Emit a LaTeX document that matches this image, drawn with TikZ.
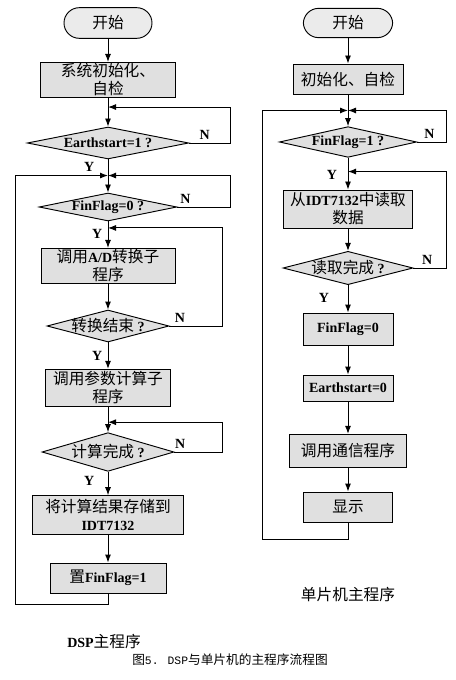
\documentclass[tikz,border=0pt]{standalone}
\usepackage{fontspec}
\setmainfont{Liberation Serif}
\newfontfamily\cjk[Scale=1.12]{Noto Sans CJK SC}
\newfontfamily\capmono{Liberation Mono}
\newcommand{\zh}[1]{{\cjk\mdseries #1}}
\usetikzlibrary{positioning,shapes.geometric,arrows.meta,calc}

\begin{document}
\begin{tikzpicture}[->, >={Latex[length=6pt,width=4.5pt]}, on grid, line width=0.7pt,
		font=\fontsize{10.5}{13.5}\selectfont\bfseries,
		term/.style={draw, rectangle, rounded corners=11.5pt, fill=black!8, minimum width=66pt, minimum height=23pt, inner sep=1pt},
		proc/.style={draw, rectangle, fill=black!12, align=center, inner sep=1pt},
		dec/.style={draw, diamond, fill=black!12, inner sep=0pt},
		yes/.style={inner sep=1pt},
		no/.style={above, inner sep=2pt}]
		\useasboundingbox (-81pt,17.25pt) rectangle (260.25pt,-492.75pt);

		% DSP main program
		\node[term] (start) {\zh{开始}};
		\node[proc, minimum width=101pt, minimum height=25.5pt] (init) [below=42.75pt of start] {\zh{系统初始化、}\\\zh{自检}};
		\node[dec, minimum width=121pt, minimum height=24pt] (d1) [below=47.25pt of init] {\makebox[0pt]{Earthstart=1 ?}};
		\node[dec, minimum width=103.5pt, minimum height=21pt] (d2) [below=48pt of d1] {\makebox[0pt]{FinFlag=0 ?}};
		\node[proc, minimum width=100.5pt, minimum height=23pt] (ad) [below=44.25pt of d2] {\zh{调用}A/D\zh{转换子}\\\zh{程序}};
		\node[dec, minimum width=91.5pt, minimum height=24pt] (d3) [below=45pt of ad] {\makebox[0pt]{\zh{转换结束} ?}};
		\node[proc, minimum width=94pt, minimum height=28pt] (calc) [below=46.5pt of d3] {\zh{调用参数计算子}\\\zh{程序}};
		\node[dec, minimum width=99pt, minimum height=29pt] (d4) [below=48pt of calc] {\makebox[0pt]{\zh{计算完成} ?}};
		\node[proc, minimum width=113pt, minimum height=29pt] (store) [below=47.25pt of d4] {\zh{将计算结果存储到}\\IDT7132};
		\node[proc, minimum width=87pt, minimum height=22.5pt] (setf) [below=47.25pt of store] {\zh{置}FinFlag=1};
		\node (dsplbl) [below=48pt of setf, xshift=-3pt] {DSP\zh{主程序}};

		\coordinate (railA) at ([xshift=91.5pt]start);
		\coordinate (railB) at ([xshift=85.5pt]start);
		\coordinate (railC) at ([xshift=-69.75pt]start);
		\coordinate (j1) at ([yshift=-6.75pt]init.south);
		\coordinate (j2) at ([yshift=12.75pt]d2.north);
		\coordinate (j3) at ([yshift=15pt]ad.north);
		\coordinate (j4) at ([yshift=7.5pt]d4.north);

		\draw (start) -- (init);
		\draw (init) -- (d1);
		\draw (d1.east) -- node[no, pos=0.38] {N} (d1.east -| railA) |- (j1);
		\draw (d1) -- node[yes, pos=0.24, left=9pt] {Y} (d2);
		\draw (d2.east) -- node[no, pos=0.15] {N} (d2.east -| railA) |- (j2);
		\draw (d2) -- node[yes, pos=0.47, left=3pt] {Y} (ad);
		\draw (ad) -- (d3);
		\draw (d3.east) -- node[no, pos=0.2] {N} (d3.east -| railB) |- (j3);
		\draw (d3) -- node[yes, pos=0.5, left=3pt] {Y} (calc);
		\draw (calc) -- (d4);
		\draw (d4.east) -- node[no, pos=0.12] {N} (d4.east -| railB) |- (j4);
		\draw (d4) -- node[yes, pos=0.4, left=9pt] {Y} (store);
		\draw (store) -- (setf);
		\draw (setf) -- ++(0,-19.5pt) -| (railC |- j2) -- (j2);

		% MCU main program
		\node[term, minimum width=67pt, minimum height=22pt] (rstart) [right=180pt of start] {\zh{开始}};
		\node[proc, minimum width=82.5pt, minimum height=22.5pt] (rinit) [below=42pt of rstart] {\zh{初始化、自检}};
		\node[dec, minimum width=103pt, minimum height=23pt] (d5) [below=47.25pt of rinit] {\makebox[0pt]{FinFlag=1 ?}};
		\node[proc, minimum width=97pt, minimum height=28.5pt] (read) [below=50.25pt of d5] {\zh{从}IDT7132\zh{中读取}\\\zh{数据}};
		\node[dec, minimum width=97.5pt, minimum height=25pt] (d6) [below=44.25pt of read] {\makebox[0pt]{\zh{读取完成} ?}};
		\node[proc, minimum width=67.5pt, minimum height=24pt] (f0) [below=45.75pt of d6] {FinFlag=0};
		\node[proc, minimum width=67.5pt, minimum height=19.5pt] (e0) [below=44.25pt of f0] {Earthstart=0};
		\node[proc, minimum width=88pt, minimum height=25pt] (comm) [below=47.25pt of e0] {\zh{调用通信程序}};
		\node[proc, minimum width=67pt, minimum height=22.5pt] (disp) [below=42pt of comm] {\zh{显示}};
		\node (mculbl) [below=66pt of disp] {\zh{单片机主程序}};

		\coordinate (railD) at ([xshift=73.5pt]rstart);
		\coordinate (railE) at ([xshift=-64.5pt]rstart);
		\coordinate (j5) at ([yshift=-12pt]rinit.south);
		\coordinate (j6) at ([yshift=13.5pt]read.north);

		\draw (rstart) -- (rinit);
		\draw (rinit) -- (d5);
		\draw (d5.east) -- node[no, pos=0.43] {N} (d5.east -| railD) |- (j5);
		\draw (d5) -- node[yes, pos=0.55, left=7pt] {Y} (read);
		\draw (read) -- (d6);
		\draw (d6.east) -- node[no, pos=0.42] {N} (d6.east -| railD) |- (j6);
		\draw (d6) -- node[yes, pos=0.46, left=13pt] {Y} (f0);
		\draw (f0) -- (e0);
		\draw (e0) -- (comm);
		\draw (comm) -- (disp);
		\draw (disp) -- ++(0,-24pt) -| (railE |- j5) -- (j5);

		\node[font=\fontsize{8.5}{10}\selectfont\mdseries] (cap) [below right=13.5pt and 94.5pt of dsplbl] {\zh{图}{\capmono 5. DSP}\zh{与单片机的主程序流程图}};
	\end{tikzpicture}
\end{document}
